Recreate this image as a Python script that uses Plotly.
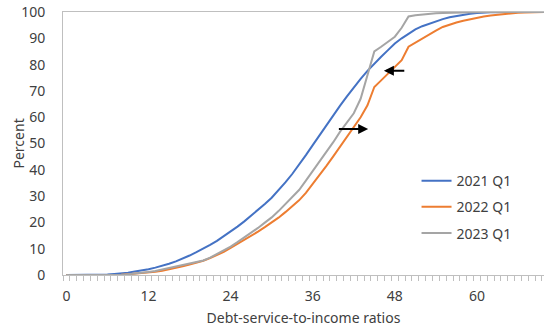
import plotly.graph_objects as go

# Debt-service-to-income ratio (x) and cumulative share of borrowers (percent)
dsti = list(range(0, 71))

q1_2021 = [0, 0, 0, 0, 0, 0, 0.2, 0.4, 0.6, 0.9,
           1.3, 1.7, 2.2, 2.8, 3.5, 4.3, 5.2, 6.2, 7.4, 8.7,
           10.0, 11.5, 13.0, 14.7, 16.5, 18.4, 20.4, 22.5, 24.7, 27.0,
           29.4, 32.2, 35.2, 38.4, 41.8, 45.6, 49.4, 53.2, 57.0, 60.8,
           64.4, 67.9, 71.3, 74.6, 77.6, 80.4, 83.0, 85.5, 88.0, 90.0,
           91.8, 93.4, 94.6, 95.6, 96.5, 97.3, 98.0, 98.5, 99.0, 99.3,
           99.6, 99.8, 99.9, 99.9, 100, 100, 100, 100, 100, 100, 100]

q1_2022 = [0, 0, 0, 0, 0, 0, 0, 0, 0.1, 0.3,
           0.5, 0.7, 0.9, 1.2, 1.6, 2.1, 2.7, 3.3, 4.0, 4.7,
           5.4, 6.4, 7.5, 8.8, 10.3, 11.8, 13.3, 14.9, 16.5, 18.2,
           19.9, 21.8, 23.9, 26.1, 28.4, 31.2, 34.5, 37.9, 41.5, 45.1,
           48.8, 52.3, 56.0, 60.0, 64.5, 71.5, 74.0, 76.5, 79.0, 81.7,
           86.8, 88.4, 89.9, 91.4, 92.9, 94.3, 95.2, 96.0, 96.7, 97.3,
           97.8, 98.3, 98.7, 99.0, 99.3, 99.5, 99.7, 99.8, 99.9, 100, 100]

q1_2023 = [0, 0, 0, 0, 0, 0, 0, 0, 0.1, 0.3,
           0.5, 0.8, 1.1, 1.5, 2.0, 2.6, 3.2, 3.8, 4.4, 5.0,
           5.5, 6.6, 7.9, 9.3, 10.8, 12.5, 14.2, 16.0, 17.9, 19.9,
           21.9, 24.3, 26.9, 29.6, 32.3, 35.9, 39.5, 43.1, 46.8, 50.5,
           54.5, 58.0, 61.5, 67.0, 76.0, 85.0, 86.8, 88.6, 90.6, 94.0,
           98.3, 98.8, 99.1, 99.3, 99.5, 99.6, 99.7, 99.8, 99.9, 100,
           100, 100, 100, 100, 100, 100, 100, 100, 100, 100, 100]

series = [("2021 Q1", q1_2021, "#4472C4"),
          ("2022 Q1", q1_2022, "#ED7D31"),
          ("2023 Q1", q1_2023, "#A5A5A5")]

x_labels = [0, 12, 24, 36, 48, 60]

# Shift arrows: (tail x, head x, y)
arrows = [(39.6, 44.1, 55.5), (49.6, 46.4, 77.7)]

font = "Noto Sans, Open Sans, sans-serif"
text_color = "#404040"
axis_grey = "#BFBFBF"

fig = go.Figure()
for name, vals, color in series:
    fig.add_trace(go.Scatter(
        x=dsti, y=vals, mode="lines", name=name,
        line=dict(color=color, width=2),
        legendgroup=name,
    ))

for x0, x1, y in arrows:
    fig.add_annotation(
        x=x1, y=y, ax=x0, ay=y, xref="x", yref="y", axref="x", ayref="y",
        text="", showarrow=True, arrowhead=2, arrowsize=1, arrowwidth=2,
        arrowcolor="black",
    )

# y-axis title placed by hand (axis title standoff can't go close enough)
fig.add_annotation(
    text="Percent", textangle=-90, showarrow=False,
    xref="paper", yref="paper", x=0, y=0.5,
    xanchor="center", yanchor="middle", xshift=-45,
    font=dict(size=14, color=text_color),
)

fig.update_layout(
    width=544, height=329,
    margin=dict(l=63, r=0, t=12, b=54),
    paper_bgcolor="white", plot_bgcolor="white",
    font=dict(family=font, size=14, color=text_color),
    showlegend=True,
    legend=dict(
        x=0.735, y=0.418, xanchor="left", yanchor="top",
        bgcolor="rgba(0,0,0,0)", itemwidth=30,
        tracegroupgap=5, font=dict(size=14, color=text_color),
    ),
    xaxis=dict(
        range=[-0.5, 69.8], tickmode="array", tickvals=x_labels,
        ticks="",
        minor=dict(tick0=0.5, dtick=1, ticks="outside", ticklen=5,
                   tickcolor=axis_grey),
        showline=True, linecolor=axis_grey, linewidth=1, mirror=True,
        showgrid=False, zeroline=False, automargin=False,
        ticklabelstandoff=8,
        title=dict(text="Debt-service-to-income ratios", standoff=9,
                   font=dict(size=14)),
    ),
    yaxis=dict(
        range=[0, 100], dtick=10, ticks="",
        showline=True, linecolor=axis_grey, linewidth=1,
        showgrid=False, zeroline=False, automargin=False,
        ticklabelstandoff=14, ticklabeloverflow="allow",
    ),
)

# drop the default 8px body margin so the chart sits at the page corner
fig.write_html(
    "out.html",
    config={"displayModeBar": False},
    post_script="document.body.style.margin='0';"
                "document.body.style.overflow='hidden';"
                "document.documentElement.style.overflow='hidden';",
)
